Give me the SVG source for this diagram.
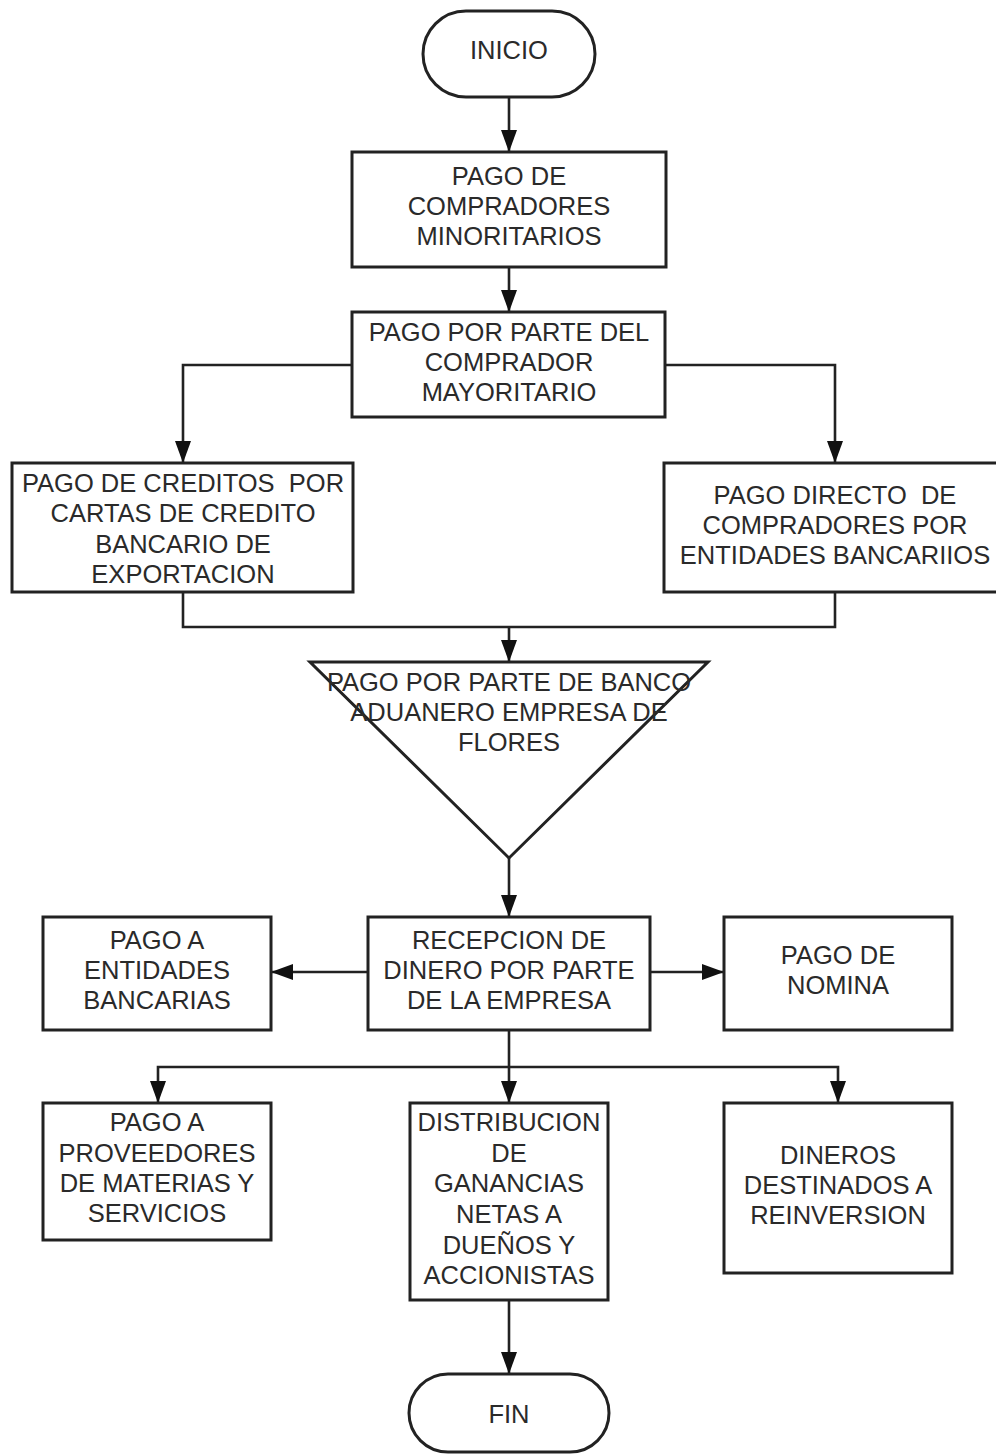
<svg xmlns="http://www.w3.org/2000/svg" width="996" height="1456" viewBox="0 0 996 1456">
<style>
.b{fill:#fff;stroke:#222;stroke-width:3}
.t{font-family:"Liberation Sans",Arial,sans-serif;font-size:25.5px;fill:#2a2a2a;text-anchor:middle}
.c{fill:none;stroke:#222;stroke-width:2.6}
</style>
<defs>
<marker id="ah" markerUnits="userSpaceOnUse" markerWidth="22" markerHeight="16" refX="22" refY="8" orient="auto">
<path d="M0,0 L22,8 L0,16 z" fill="#111"/>
</marker>
</defs>
<rect width="996" height="1456" fill="#fff"/>
<g id="connectors">
<path class="c" d="M509,97 V152" marker-end="url(#ah)"/>
<path class="c" d="M509,267 V312" marker-end="url(#ah)"/>
<path class="c" d="M352,365 H183 V463" marker-end="url(#ah)"/>
<path class="c" d="M665,365 H835 V463" marker-end="url(#ah)"/>
<path class="c" d="M183,592 V627 H835 V592"/>
<path class="c" d="M509,627 V662" marker-end="url(#ah)"/>
<path class="c" d="M509,858 V917" marker-end="url(#ah)"/>
<path class="c" d="M368,972 H271" marker-end="url(#ah)"/>
<path class="c" d="M650,972 H724" marker-end="url(#ah)"/>
<path class="c" d="M509,1030 V1103" marker-end="url(#ah)"/>
<path class="c" d="M509,1067 H158 V1103" marker-end="url(#ah)"/>
<path class="c" d="M509,1067 H838 V1103" marker-end="url(#ah)"/>
<path class="c" d="M509,1300 V1374" marker-end="url(#ah)"/>
</g>
<g id="inicio">
<rect class="b" x="423" y="11" width="172" height="86" rx="43"/>
<text class="t" x="509" y="59">INICIO</text>
</g>
<g id="pago-minoritarios">
<rect class="b" x="352" y="152" width="314" height="115"/>
<text class="t" x="509" y="185">PAGO DE</text>
<text class="t" x="509" y="215">COMPRADORES</text>
<text class="t" x="509" y="245">MINORITARIOS</text>
</g>
<g id="pago-mayoritario">
<rect class="b" x="352" y="312" width="313" height="105"/>
<text class="t" x="509" y="341">PAGO POR PARTE DEL</text>
<text class="t" x="509" y="371">COMPRADOR</text>
<text class="t" x="509" y="401">MAYORITARIO</text>
</g>
<g id="pago-creditos">
<rect class="b" x="12" y="463" width="341" height="129"/>
<text class="t" x="183" y="492" xml:space="preserve">PAGO DE CREDITOS  POR</text>
<text class="t" x="183" y="522">CARTAS DE CREDITO</text>
<text class="t" x="183" y="553">BANCARIO DE</text>
<text class="t" x="183" y="583">EXPORTACION</text>
</g>
<g id="pago-directo">
<rect class="b" x="664" y="463" width="340" height="129"/>
<text class="t" x="835" y="504" xml:space="preserve">PAGO DIRECTO  DE</text>
<text class="t" x="835" y="534">COMPRADORES POR</text>
<text class="t" x="835" y="564">ENTIDADES BANCARIIOS</text>
</g>
<g id="pago-banco">
<polygon class="b" points="310,662 708,662 509,858"/>
<text class="t" x="509" y="691">PAGO POR PARTE DE BANCO</text>
<text class="t" x="509" y="721">ADUANERO EMPRESA DE</text>
<text class="t" x="509" y="751">FLORES</text>
</g>
<g id="recepcion">
<rect class="b" x="368" y="917" width="282" height="113"/>
<text class="t" x="509" y="949">RECEPCION DE</text>
<text class="t" x="509" y="979">DINERO POR PARTE</text>
<text class="t" x="509" y="1009">DE LA EMPRESA</text>
</g>
<g id="pago-entidades">
<rect class="b" x="43" y="917" width="228" height="113"/>
<text class="t" x="157" y="949">PAGO A</text>
<text class="t" x="157" y="979">ENTIDADES</text>
<text class="t" x="157" y="1009">BANCARIAS</text>
</g>
<g id="pago-nomina">
<rect class="b" x="724" y="917" width="228" height="113"/>
<text class="t" x="838" y="964">PAGO DE</text>
<text class="t" x="838" y="994">NOMINA</text>
</g>
<g id="pago-proveedores">
<rect class="b" x="43" y="1103" width="228" height="137"/>
<text class="t" x="157" y="1131">PAGO A</text>
<text class="t" x="157" y="1162">PROVEEDORES</text>
<text class="t" x="157" y="1192">DE MATERIAS Y</text>
<text class="t" x="157" y="1222">SERVICIOS</text>
</g>
<g id="distribucion">
<rect class="b" x="410" y="1103" width="198" height="197"/>
<text class="t" x="509" y="1131">DISTRIBUCION</text>
<text class="t" x="509" y="1162">DE</text>
<text class="t" x="509" y="1192">GANANCIAS</text>
<text class="t" x="509" y="1223">NETAS A</text>
<text class="t" x="509" y="1254">DUEÑOS Y</text>
<text class="t" x="509" y="1284">ACCIONISTAS</text>
</g>
<g id="reinversion">
<rect class="b" x="724" y="1103" width="228" height="170"/>
<text class="t" x="838" y="1164">DINEROS</text>
<text class="t" x="838" y="1194">DESTINADOS A</text>
<text class="t" x="838" y="1224">REINVERSION</text>
</g>
<g id="fin">
<rect class="b" x="409" y="1374" width="200" height="78" rx="39"/>
<text class="t" x="509" y="1423">FIN</text>
</g>
</svg>
